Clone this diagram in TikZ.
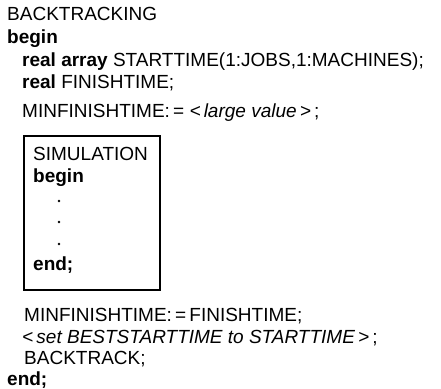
\documentclass[tikz,border=0pt]{standalone}
\usepackage{fontspec}
\setmainfont{Liberation Sans}
\usetikzlibrary{positioning}

\begin{document}
\begin{tikzpicture}[
    x=1pt, y=-1pt,
    font=\fontsize{19}{22}\selectfont,
    code/.style={anchor=base west, inner sep=0pt},
    kw/.style={code, font=\fontsize{19}{22}\selectfont\bfseries},
    simbox/.style={draw, line width=1.6pt, anchor=north west, inner sep=0pt,
                   minimum width=136pt, minimum height=154pt},
    dot/.style={circle, fill, inner sep=0pt, minimum size=2.6pt}
]
\useasboundingbox (0,0) rectangle (441,388);

% --- Outer procedure ---
\node[code] (title) at (7,20) {BACKTRACKING};
\node[kw] (beg) at (7,43) {begin};
\node[code] (decl1) at (22,66) {\textbf{real array} STARTTIME(1:JOBS,1:MACHINES);};
\node[code] (decl2) at (22,88) {\textbf{real} FINISHTIME;};
\node[code] (init) at (22,117) {MINFINISHTIME:\,=\;\textit{<\,large value\,>}\,;};

% --- Simulation block ---
\node[simbox] (sim) at (23,135) {};
\node[code] (simname) at (33,160) {SIMULATION};
\node[kw] (simbeg) at (33,182) {begin};
\node[dot] (d1) at (59,201) {};
\node[dot] (d2) at (59,222) {};
\node[dot] (d3) at (59,244) {};
\node[kw] (simend) at (33,270) {end;};

% --- After simulation ---
\node[code] (upd) at (24,321) {MINFINISHTIME:\,=\,FINISHTIME;};
\node[code] (best) at (22,343) {\textit{<\,set BESTSTARTTIME to STARTTIME\,>}\,;};
\node[code] (rec) at (24,364) {BACKTRACK;};
\node[kw] (fin) at (7,385) {end;};

\end{tikzpicture}
\end{document}
